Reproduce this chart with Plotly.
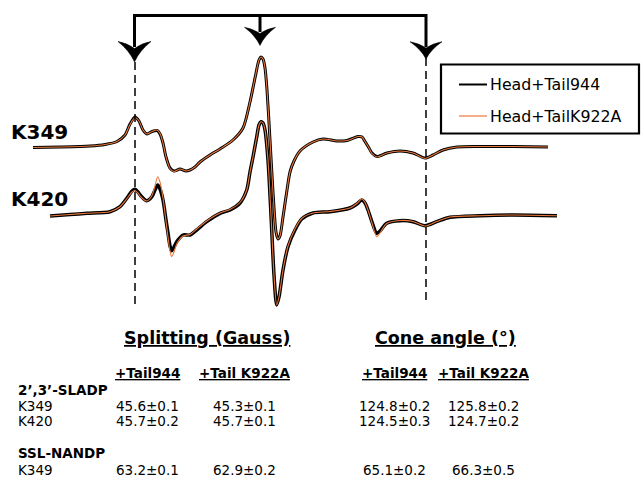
import plotly.graph_objects as go

W, H = 643, 477

# ---------------- spectra (field in plot units, amplitude in a.u., up = positive) -------------
k349_field = [33, 60, 90, 105, 117, 125, 130, 135, 139, 143, 147, 152, 157, 160, 163, 166, 170, 174,
              180, 186, 190, 195, 200, 210, 220, 233, 243, 250, 255, 259, 261, 263, 265, 267, 270,
              273, 276, 278, 280, 283, 287, 290, 294, 300, 313, 323, 337, 347, 358, 362, 365, 369,
              372, 377, 387, 400, 413, 425, 433, 443, 457, 480, 513, 548]
k349_tail944 = [-0.5, 0, 1, 2.5, 5.5, 12, 23, 30, 26, 17, 13, 15.5, 16.5, 13, 4, -10, -21, -24,
                -22, -24, -23, -20, -15, -8, -2, 7, 19, 45, 69, 87, 90, 88, 79, 57, 7,
                -45, -85, -92, -89, -70, -43, -25, -14, -4, 5, 8, 6, 6.5, 10.5, 10, 5.5, -1,
                -6, -9.5, -6, -4, -6, -11, -8, -3, 0, 0.5, 0.5, 0]
k349_k922a = [-0.5, 0, 1, 2.5, 5.5, 12, 22.5, 29.5, 26, 17, 13, 15.5, 17, 13.5, 4, -10, -21.5, -24.5,
              -22, -24, -23, -20, -15, -8, -2, 7, 19, 45, 69, 87, 90, 88, 79, 57, 7,
              -45, -85, -92, -89, -70, -43, -25, -14, -4, 5, 8, 6, 6.5, 10.5, 10, 5.5, -1,
              -6.5, -10, -6, -4, -6, -11.5, -8, -3, 0, 0.5, 0.5, 0]

k420_field = [50, 70, 87, 110, 120, 127, 132, 135, 138, 141, 146.7, 151.7, 155, 157.7, 160, 163, 166,
              168, 170, 171.7, 174, 176.7, 183, 190, 196.7, 206.7, 220, 230, 240, 246.7, 250, 253,
              256.7, 259, 261, 263, 265, 268, 271, 274, 276.7, 279, 283, 288, 295, 301.7, 313, 330,
              350, 357, 361.7, 365, 368, 372, 376.7, 380, 386.7, 400, 413, 425, 436.7, 450, 480,
              513, 557]
k420_tail944 = [-1, 0.5, 1.7, 3.3, 8.3, 17, 24, 25.7, 23, 19, 14.3, 18, 25, 30, 26, 15, -5,
                -18, -31, -35.7, -32, -26.7, -20, -20, -15, -6.7, 1.7, 5, 12, 25, 43, 58,
                78, 90, 93.3, 92, 85, 55, 0, -60, -90, -82, -55, -31.7, -15, -4, 2, 3.3,
                7, 11, 15, 12, 5, -7, -18.3, -16, -8.3, -5.7, -6.7, -10.7, -6.7, -2.3, -0.7,
                0, -0.7]
k420_k922a = [-1, 0.5, 1.7, 3.3, 8.3, 16.5, 23, 24.5, 22, 18, 14, 19, 29, 38.3, 33, 17, -6,
              -22, -36, -41.7, -37, -29, -21, -19.5, -14, -6, 2, 5.5, 12.5, 25, 43, 58,
              78, 90, 93.3, 92, 85, 55, 0, -60, -90, -82, -55, -31, -14, -3.5, 2, 3.5,
              7, 11.5, 16, 12.5, 5, -8, -21.7, -18, -8.5, -5.5, -6.5, -11, -6.5, -2, -0.7,
              0, -0.7]

spectra = [
    ("K349", k349_field, k349_tail944, k349_k922a),
    ("K420", k420_field, k420_tail944, k420_k922a),
]
series_names = ["Head+Tail944", "Head+TailK922A"]

# ---------------- table ----------------
group_titles = ["Splitting (Gauss)", "Cone angle (°)"]
column_heads = ["+Tail944", "+Tail K922A", "+Tail944", "+Tail K922A"]
section_sladp = "2’,3’-SLADP"
rows_sladp = ["K349", "K420"]
values_sladp = [["45.6±0.1", "45.3±0.1", "124.8±0.2", "125.8±0.2"],
                ["45.7±0.2", "45.7±0.1", "124.5±0.3", "124.7±0.2"]]
section_nandp = "SSL-NANDP"
rows_nandp = ["K349"]
values_nandp = [["63.2±0.1", "62.9±0.2", "65.1±0.2", "66.3±0.5"]]

# ---------------- styling / layout constants ----------------
BLACK = "#000000"
ORANGE = "#E8773A"
FONT = "DejaVu Sans"
stack_offset = {"K349": 330, "K420": 262}
black_width = {"K349": 3.0, "K420": 3.5}


def Y(py):
    """screen-row to plot y"""
    return H - py


fig = go.Figure()
for label, fld, blk, org in spectra:
    off = stack_offset[label]
    fig.add_trace(go.Scatter(x=fld, y=[v + off for v in blk], mode="lines",
                             name=series_names[0],
                             line=dict(color=BLACK, width=black_width[label], shape="spline", smoothing=0.75)))
    fig.add_trace(go.Scatter(x=fld, y=[v + off for v in org], mode="lines",
                             name=series_names[1],
                             line=dict(color=ORANGE, width=1.1, shape="spline", smoothing=0.75)))

shapes = []
# dashed reference lines
for xd, ytop in [(135, 62), (426, 58)]:
    shapes.append(dict(type="line", x0=xd, x1=xd, y0=Y(ytop), y1=Y(305), xref="x", yref="y",
                       line=dict(color=BLACK, width=1.5, dash="8px,5px")))
# bracket
top = 15.5
shapes.append(dict(type="path", xref="x", yref="y",
                   path=f"M 134.5,{Y(47)} L 134.5,{Y(top)} L 426,{Y(top)} L 426,{Y(47)}",
                   line=dict(color=BLACK, width=3)))
shapes.append(dict(type="line", xref="x", yref="y", x0=260, x1=260, y0=Y(top), y1=Y(32),
                   line=dict(color=BLACK, width=3)))


def arrowhead(xc, tip, back, notch, half):
    p = (f"M {xc},{Y(tip)} "
         f"Q {xc - half * 0.3},{Y(back + (tip - back) * 0.45)} {xc - half},{Y(back)} "
         f"Q {xc - half * 0.45},{Y(back + 1.5)} {xc},{Y(notch)} "
         f"Q {xc + half * 0.45},{Y(back + 1.5)} {xc + half},{Y(back)} "
         f"Q {xc + half * 0.3},{Y(back + (tip - back) * 0.45)} {xc},{Y(tip)} Z")
    return dict(type="path", xref="x", yref="y", path=p, fillcolor=BLACK,
                line=dict(color=BLACK, width=0.5))


shapes.append(arrowhead(134.5, 62, 41.5, 48.5, 16.5))
shapes.append(arrowhead(260, 45.5, 27.3, 33.5, 15.5))
shapes.append(arrowhead(426, 59, 41.7, 48, 16))

# legend box
shapes.append(dict(type="rect", xref="x", yref="y", x0=441, x1=639, y0=Y(64.5), y1=Y(133.5),
                   line=dict(color=BLACK, width=2.2), fillcolor="rgba(0,0,0,0)"))
shapes.append(dict(type="line", xref="x", yref="y", x0=459, x1=487, y0=Y(84.5), y1=Y(84.5),
                   line=dict(color=BLACK, width=2)))
shapes.append(dict(type="line", xref="x", yref="y", x0=459, x1=487, y0=Y(116), y1=Y(116),
                   line=dict(color=ORANGE, width=1.2)))

ann = []


def text(x, py, s, size, bold=False, anchor="left", color=BLACK):
    ann.append(dict(x=x, y=Y(py), xref="x", yref="y", text=(f"<b>{s}</b>" if bold else s),
                    showarrow=False, xanchor=anchor, yanchor="middle",
                    font=dict(family=FONT, size=size, color=color)))


# legend texts
text(488, 84.5, series_names[0], 15.8)
text(488, 116, series_names[1], 15.8)
# spectrum labels
text(9, 132, "K349", 20, bold=True)
text(9, 199, "K420", 20, bold=True)

# table
group_x = [207, 445]
col_x = [147.5, 244, 394.5, 483]
for gx, gt in zip(group_x, group_titles):
    text(gx, 338, f"<u>{gt}</u>", 17.5, bold=True, anchor="center")
for cx, ch in zip(col_x, column_heads):
    text(cx, 373, f"<u>{ch}</u>", 13.5, bold=True, anchor="center")

text(16, 390, section_sladp, 13.5, bold=True)
for i, (rl, vals) in enumerate(zip(rows_sladp, values_sladp)):
    ry = 405.5 + i * 15.5
    text(16, ry, rl, 13.5)
    for cx, v in zip(col_x, vals):
        text(cx, ry, v, 13.5, anchor="center")

text(16, 453, section_nandp, 13.5, bold=True)
for i, (rl, vals) in enumerate(zip(rows_nandp, values_nandp)):
    ry = 469.5 + i * 15.5
    text(16, ry, rl, 13.5)
    for cx, v in zip(col_x, vals):
        text(cx, ry, v, 13.5, anchor="center")

fig.update_layout(
    width=W, height=H, autosize=False,
    margin=dict(l=0, r=0, t=0, b=0, pad=0),
    paper_bgcolor="white", plot_bgcolor="white",
    showlegend=False,
    xaxis=dict(range=[0, W], visible=False, fixedrange=True),
    yaxis=dict(range=[0, H], visible=False, fixedrange=True),
    shapes=shapes, annotations=ann,
)

fig.write_html("out.html")
